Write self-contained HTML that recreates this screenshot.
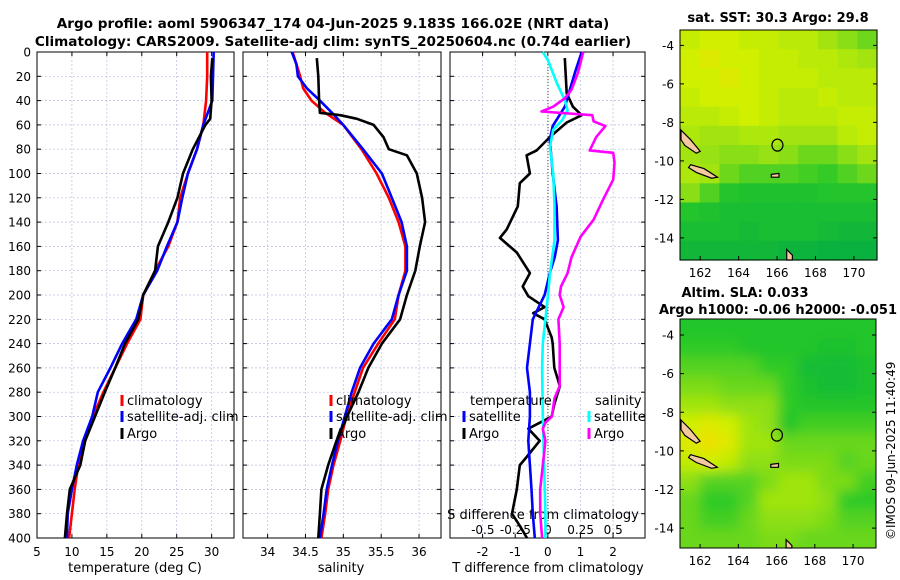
<!DOCTYPE html>
<html><head><meta charset="utf-8">
<style>
body{margin:0;background:#fff;}
svg{display:block;font-family:"DejaVu Sans","Liberation Sans",sans-serif;}
</style></head>
<body>
<svg id="chart" width="900" height="580" viewBox="0 0 900 580" xmlns="http://www.w3.org/2000/svg">
<defs>
<filter id="blur" x="-5%" y="-5%" width="110%" height="110%"><feGaussianBlur stdDeviation="6"/></filter>
<clipPath id="slaClip"><rect x="680" y="319" width="196" height="229"/></clipPath>
</defs>
<text x="333" y="28" text-anchor="middle" font-size="13.6" font-weight="bold">Argo profile: aoml 5906347_174 04-Jun-2025 9.183S 166.02E (NRT data)</text>
<text x="333" y="46" text-anchor="middle" font-size="13.6" font-weight="bold">Climatology: CARS2009. Satellite-adj clim: synTS_20250604.nc (0.74d earlier)</text>
<text x="778" y="22" text-anchor="middle" font-size="13" font-weight="bold">sat. SST: 30.3 Argo: 29.8</text>
<text x="745" y="297" text-anchor="middle" font-size="13" font-weight="bold">Altim. SLA: 0.033</text>
<text x="778" y="314" text-anchor="middle" font-size="13" font-weight="bold">Argo h1000: -0.06 h2000: -0.051</text>
<text transform="translate(895,540) rotate(-90)" font-size="12">©IMOS 09-Jun-2025 11:40:49</text>
<g id="g"></g>
</svg>
<script>
// ---------- data ----------
const yTicks=[0,20,40,60,80,100,120,140,160,180,200,220,240,260,280,300,320,340,360,380,400];
const tTicks=[5,10,15,20,25,30];
const sTicks=[34,34.5,35,35.5,36];
const dTTicks=[-2,-1,0,1,2];
const dSTickLabels=["-0.5","-0.25","0","0.25","0.5"];
const dSTicks=[-0.5,-0.25,0,0.25,0.5];
const depthStd=[0,20,40,60,80,100,120,140,160,180,200,220,240,260,280,300,320,340,360,380,400];
const tempClim=[29.36,29.36,29.2,28.8,27.9,26.6,25.5,25.1,23.8,21.9,20.2,19.8,17.9,16.2,14.5,13.0,11.9,10.9,10.4,10.0,9.6];
const tempSat=[30.3,30.2,30.1,28.8,27.9,26.6,25.8,25.1,23.6,22.2,20.2,19.2,17.2,15.5,13.7,12.9,11.6,10.7,10.0,9.4,9.3];
const depthArgo=[5,20,40,55,60,80,100,120,140,160,180,200,220,240,260,280,300,320,340,360,380,400];
const tempArgo=[30.1,29.9,30.0,29.8,29.1,27.3,25.9,25.1,23.8,22.3,21.9,20.2,19.5,17.6,16.2,14.7,13.3,11.9,11.2,9.7,9.3,9.0];
const depthSalClim=[0,20,30,40,50,60,80,100,120,140,160,180,200,220,240,260,280,300,320,340,360,380,400];
const salClim=[34.33,34.43,34.47,34.58,34.76,35.0,35.24,35.44,35.6,35.73,35.82,35.82,35.73,35.68,35.46,35.26,35.15,35.04,34.96,34.87,34.80,34.76,34.71];
const depthSalSat=[0,10,20,30,40,50,60,80,100,120,140,160,180,200,220,240,260,280,300,320,340,360,380,400];
const salSat=[34.32,34.38,34.40,34.52,34.69,34.85,35.0,35.26,35.51,35.64,35.77,35.84,35.84,35.73,35.64,35.40,35.22,35.11,35.02,34.93,34.85,34.78,34.74,34.69];
const depthSalArgo=[5,20,40,50,52,55,60,70,80,85,100,120,140,160,180,200,220,240,260,280,300,320,340,360,380,400];
const salArgo=[34.65,34.67,34.68,34.69,34.96,35.18,35.40,35.53,35.60,35.84,35.97,36.04,36.08,36.01,35.95,35.84,35.75,35.51,35.33,35.20,35.05,34.91,34.80,34.71,34.69,34.67];
const depthDT=[5,34,45,52,58,70,81,85,100,108,127,146,153,165,182,193,201,210,215,220,235,240,260,275,290,300,310,320,335,340,360,380,390,400];
const dTArgo=[0.52,0.58,0.77,1.04,0.58,0.06,-0.34,-0.65,-0.55,-0.86,-0.92,-1.26,-1.47,-0.95,-0.55,-0.77,-0.6,-0.1,-0.45,-0.1,0.12,0.15,0.2,0.37,0.2,0.12,-0.6,-0.25,-0.7,-0.86,-0.95,-1.1,-0.86,-0.64];
const depthDTs=[0,17,45,61,72,100,127,155,169,182,200,220,240,260,280,300,320,340,360,380,400];
const dTSat=[1.04,0.83,0.52,0.15,0.06,0.15,0.27,0.31,0.21,0.06,-0.1,-0.46,-0.55,-0.64,-0.55,-0.55,-0.6,-0.55,-0.5,-0.46,-0.4];
const depthDS=[0,7,26,40,48,56,64,78,100,127,155,182,200,220,240,260,300,340,380,400];
const dSSat=[-0.04,0,0.07,0.13,0.15,0.11,0.04,0.015,0.04,0.05,0.05,0.015,0,-0.02,-0.04,-0.045,-0.04,-0.03,-0.02,-0.02];
const depthDSa=[0,17,31,38,45,49,52,57,61,70,81,83,91,105,122,138,152,169,182,193,200,210,220,240,260,275,285,300,305,310,320,340,360,380,400];
const dSArgo=[0.27,0.23,0.18,0.13,0.04,-0.05,0.34,0.35,0.44,0.37,0.32,0.5,0.51,0.5,0.42,0.35,0.25,0.18,0.15,0.1,0.09,0.12,0.08,0.09,0.09,0.09,0.05,0.03,-0.02,-0.04,-0.02,-0.04,-0.06,-0.06,-0.045];
const mapLonTicks=[162,164,166,168,170];
const mapLatTicks=[-4,-6,-8,-10,-12,-14];
const sstGrid=[
[30.45,30.5,30.5,30.45,30.45,30.4,30.4,30.3,30.2,30.1],
[30.5,30.55,30.5,30.5,30.45,30.45,30.4,30.4,30.35,30.3],
[30.5,30.5,30.55,30.5,30.45,30.45,30.45,30.4,30.4,30.4],
[30.45,30.5,30.5,30.5,30.45,30.4,30.4,30.45,30.4,30.4],
[30.4,30.4,30.45,30.5,30.45,30.4,30.4,30.4,30.45,30.45],
[30.35,30.3,30.3,30.35,30.35,30.3,30.3,30.3,30.4,30.45],
[30.3,30.25,30.2,30.2,30.25,30.2,30.1,30.1,30.2,30.3],
[30.35,30.3,30.1,30.0,30.0,30.0,29.95,29.9,30.0,30.1],
[30.2,30.0,29.8,29.75,29.75,29.75,29.75,29.8,29.8,29.8],
[29.8,29.75,29.7,29.7,29.7,29.7,29.7,29.7,29.7,29.7],
[29.7,29.7,29.7,29.65,29.7,29.7,29.7,29.65,29.6,29.6],
[29.6,29.6,29.6,29.6,29.6,29.55,29.55,29.5,29.5,29.5]];
const slaGrid=[
[0.03,0.03,0.03,0.03,0.03,0.03,0.03,0.03,0.03,0.03],
[0.035,0.035,0.035,0.03,0.03,0.03,0.03,0.025,0.025,0.03],
[0.045,0.045,0.045,0.045,0.035,0.035,0.02,0.02,0.02,0.025],
[0.055,0.055,0.05,0.05,0.05,0.035,0.025,0.02,0.02,0.025],
[0.065,0.065,0.06,0.06,0.06,0.035,0.03,0.03,0.03,0.03],
[0.08,0.085,0.08,0.065,0.06,0.03,0.04,0.04,0.04,0.04],
[0.085,0.09,0.085,0.065,0.065,0.05,0.05,0.05,0.05,0.05],
[0.075,0.08,0.075,0.06,0.06,0.055,0.055,0.055,0.045,0.05],
[0.06,0.045,0.045,0.045,0.055,0.065,0.065,0.055,0.055,0.04],
[0.05,0.035,0.035,0.045,0.065,0.065,0.065,0.06,0.035,0.035],
[0.05,0.04,0.04,0.05,0.06,0.06,0.06,0.055,0.045,0.045],
[0.05,0.05,0.05,0.05,0.055,0.055,0.05,0.05,0.05,0.05]];
// ---------- drawing ----------
const NS="http://www.w3.org/2000/svg";
const G=document.getElementById('g');
function mk(tag,attrs,parent){const e=document.createElementNS(NS,tag);for(const k in attrs)e.setAttribute(k,attrs[k]);(parent||G).appendChild(e);return e;}
const Y0=52,Y1=538;
const yScale=d=>Y0+d/400*(Y1-Y0);
const panels=[
 {x0:37,x1:234,lo:5,hi:33.2,name:'temperature-panel'},
 {x0:243,x1:441,lo:33.675,hi:36.29,name:'salinity-panel'},
 {x0:450,x1:645,lo:-3.0,hi:2.98,name:'difference-panel'}];
const sx=(p,v)=>p.x0+(v-p.lo)/(p.hi-p.lo)*(p.x1-p.x0);
const sxS=v=>548+v*130.4;
function grid(p,ticks){
 yTicks.forEach(t=>{const l=mk('line',{x1:p.x0,x2:p.x1,y1:yScale(t),y2:yScale(t),stroke:'#b8bce0','stroke-width':0.7,'stroke-dasharray':'2,2'});
  
  mk('line',{x1:p.x0,x2:p.x0+4,y1:yScale(t),y2:yScale(t),stroke:'#000'});mk('line',{x1:p.x1,x2:p.x1-4,y1:yScale(t),y2:yScale(t),stroke:'#000'});});
 ticks.forEach(t=>{const x=sx(p,t);const l=mk('line',{x1:x,x2:x,y1:Y0,y2:Y1,stroke:'#b8bce0','stroke-width':0.7,'stroke-dasharray':'2,2'});
  
  mk('line',{x1:x,x2:x,y1:Y1,y2:Y1-4,stroke:'#000'});mk('line',{x1:x,x2:x,y1:Y0,y2:Y0+4,stroke:'#000'});});
 const r=mk('rect',{x:p.x0,y:Y0,width:p.x1-p.x0,height:Y1-Y0,fill:'none',stroke:'#000','stroke-width':1});
 
}
function line(xs,ds,xf,color,name,w){
 const pts=xs.map((v,i)=>xf(v).toFixed(1)+','+yScale(ds[i]).toFixed(1)).join(' ');
 const e=mk('polyline',{points:pts,fill:'none',stroke:color,'stroke-width':w||2.6,'stroke-linejoin':'round'});
 
}
function text(x,y,s,opts,name){const e=mk('text',Object.assign({x:x,y:y,'font-size':13},opts||{}));e.textContent=s;
 return e;}
grid(panels[0],tTicks);grid(panels[1],sTicks);grid(panels[2],dTTicks);
yTicks.forEach(t=>text(31,yScale(t)+4.5,String(t),{'text-anchor':'end','font-size':12},'y-tick-label'));
tTicks.forEach(t=>text(sx(panels[0],t),556,String(t),{'text-anchor':'middle','font-size':12},'temperature-tick-label'));
sTicks.forEach(t=>text(sx(panels[1],t),556,String(t),{'text-anchor':'middle','font-size':12},'salinity-tick-label'));
dTTicks.forEach(t=>text(sx(panels[2],t),556,String(t),{'text-anchor':'middle','font-size':12},'t-diff-tick-label'));
dSTicks.forEach((t,i)=>text(sxS(t),534,dSTickLabels[i],{'text-anchor':'middle','font-size':12},'s-diff-tick-label'));
text(135,572,'temperature (deg C)',{'text-anchor':'middle'},'temperature-axis-title');
text(341,572,'salinity',{'text-anchor':'middle'},'salinity-axis-title');
text(548,572,'T difference from climatology',{'text-anchor':'middle'},'t-diff-axis-title');
text(543,519,'S difference from climatology',{'text-anchor':'middle'},'s-diff-axis-title');
const z=mk('line',{x1:548,x2:548,y1:Y0,y2:Y1,stroke:'#444','stroke-width':1,'stroke-dasharray':'1,2'});

const P0=panels[0],P1=panels[1],P2=panels[2];
line(tempClim,depthStd,v=>sx(P0,v),'#f00','temp-climatology-line');
line(tempSat,depthStd,v=>sx(P0,v),'#00f','temp-satellite-line');
line(tempArgo,depthArgo,v=>sx(P0,v),'#000','temp-argo-line');
line(salClim,depthSalClim,v=>sx(P1,v),'#f00','salinity-climatology-line');
line(salSat,depthSalSat,v=>sx(P1,v),'#00f','salinity-satellite-line');
line(salArgo,depthSalArgo,v=>sx(P1,v),'#000','salinity-argo-line');
line(dTArgo,depthDT,v=>sx(P2,v),'#000','t-diff-argo-line');
line(dTSat,depthDTs,v=>sx(P2,v),'#00f','t-diff-satellite-line');
line(dSSat,depthDS,sxS,'#0ff','s-diff-satellite-line');
line(dSArgo,depthDSa,sxS,'#f0f','s-diff-argo-line');
function leg(x,y,color,label,name){const l=mk('line',{x1:x,x2:x,y1:y-10,y2:y+1,stroke:color,'stroke-width':3});
 
 text(x+5,y,label,{},name);}
leg(122,405,'#f00','climatology','legend-climatology');
leg(122,421,'#00f','satellite-adj. clim','legend-satellite-adj');
leg(122,438,'#000','Argo','legend-argo');
leg(331,405,'#f00','climatology','legend-s-climatology');
leg(331,421,'#00f','satellite-adj. clim','legend-s-satellite-adj');
leg(331,438,'#000','Argo','legend-s-argo');
text(470,405,'temperature',{},'legend-temperature-header');
text(595,405,'salinity',{},'legend-salinity-header');
leg(464,421,'#00f','satellite','legend-t-satellite');
leg(464,438,'#000','Argo','legend-t-argo');
leg(589,421,'#0ff','satellite','legend-s-satellite');
leg(589,438,'#f0f','Argo','legend-s-argo-diff');
// ---------- maps ----------
function mix(a,b,t){return a.map((v,i)=>Math.round(v+(b[i]-v)*t));}
function cmap(t){t=Math.max(0,Math.min(1,t));
 const stops=[[0,[0,170,70]],[0.35,[40,200,40]],[0.65,[150,225,20]],[0.85,[210,240,0]],[1,[250,215,0]]];
 for(let i=1;i<stops.length;i++){if(t<=stops[i][0]){const a=stops[i-1],b=stops[i];const c=mix(a[1],b[1],(t-a[0])/(b[0]-a[0]));return 'rgb('+c.join(',')+')';}}
 return 'rgb(250,215,0)';}
function drawMap(name,x0,x1,y0,y1,latTop,latBot,gridData,vmin,vmax,smooth){
 const lonL=160.95,lonR=171.2;
 const mx=l=>x0+(l-lonL)/(lonR-lonL)*(x1-x0);
 const my=l=>y0+(latTop-l)/(latTop-latBot)*(y1-y0);
 const rows=gridData.length,cols=gridData[0].length;
 const cw=(x1-x0)/cols,ch=(y1-y0)/rows;
 let holder=G;
 if(smooth){const outer=mk('g',{'clip-path':'url(#slaClip)'});holder=mk('g',{filter:'url(#blur)'},outer);}
 gridData.forEach((row,r)=>row.forEach((v,c)=>{
  const pad=smooth?12:0;
  const xx=x0+c*cw-(c===0?pad:0),yy=y0+r*ch-(r===0?pad:0);
  const ww=cw+0.6+(c===0?pad:0)+(c===cols-1?pad:0),hh=ch+0.6+(r===0?pad:0)+(r===rows-1?pad:0);
  const e=mk('rect',{x:xx.toFixed(1),y:yy.toFixed(1),width:ww.toFixed(1),height:hh.toFixed(1),fill:cmap((v-vmin)/(vmax-vmin))},holder);
  }));
 const isl=[[[161.0,-8.4],[161.5,-8.9],[162.0,-9.5],[161.8,-9.6],[161.2,-9.2],[161.0,-8.9]],
  [[161.5,-10.2],[162.2,-10.4],[162.9,-10.85],[162.6,-10.9],[161.8,-10.6],[161.4,-10.35]],
  [[165.7,-10.7],[166.1,-10.65],[166.1,-10.85],[165.7,-10.85]],
  [[166.5,-14.6],[166.8,-14.9],[166.8,-15.3],[166.5,-15.3]]];
 isl.forEach(pg=>{const e=mk('polygon',{points:pg.map(p=>mx(p[0]).toFixed(1)+','+Math.min(y1,my(p[1])).toFixed(1)).join(' '),fill:'#f5c9a0',stroke:'#000','stroke-width':1.2});
  });
 const c=mk('ellipse',{cx:mx(166.02),cy:my(-9.183),rx:5.5,ry:6,fill:'none',stroke:'#000','stroke-width':1.2});
 
 const f=mk('rect',{x:x0,y:y0,width:x1-x0,height:y1-y0,fill:'none',stroke:'#000','stroke-width':1});
 
 mapLonTicks.forEach(l=>{mk('line',{x1:mx(l),x2:mx(l),y1:y1,y2:y1-4,stroke:'#000'});
  text(mx(l),y1+17,String(l),{'text-anchor':'middle','font-size':12},name+'-lon-label');});
 mapLatTicks.forEach(l=>{mk('line',{x1:x0,x2:x0+4,y1:my(l),y2:my(l),stroke:'#000'});mk('line',{x1:x1,x2:x1-4,y1:my(l),y2:my(l),stroke:'#000'});
  text(x0-6,my(l)+4.5,String(l),{'text-anchor':'end','font-size':12},name+'-lat-label');});
}
drawMap('sst-map',680,877,30,260,-3.2,-15.15,sstGrid,29.4,30.7,false);
drawMap('sla-map',680,876,319,548,-3.17,-15.03,slaGrid,0.0,0.095,true);
</script>
</body></html>
